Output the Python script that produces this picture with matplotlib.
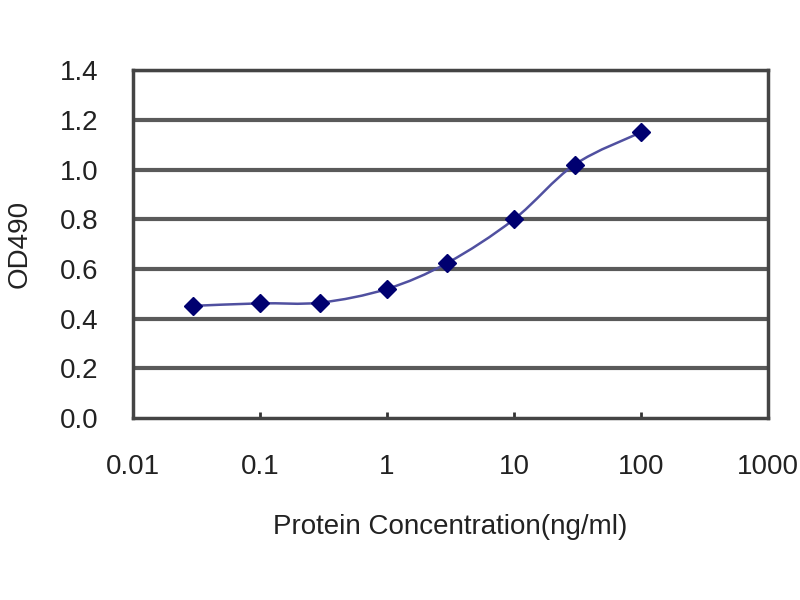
import matplotlib.pyplot as plt
from matplotlib.path import Path
from matplotlib.patches import PathPatch
import numpy as np

plt.rcParams['font.family'] = ['Liberation Sans', 'DejaVu Sans']

conc = [0.03, 0.1, 0.3, 1, 3, 10, 30, 100]
od490 = [0.452, 0.462, 0.465, 0.52, 0.625, 0.80, 1.02, 1.15]
y_ticks = [0.0, 0.2, 0.4, 0.6, 0.8, 1.0, 1.2, 1.4]
x_ticks = [0.01, 0.1, 1, 10, 100, 1000]
x_tick_labels = ['0.01', '0.1', '1', '10', '100', '1000']


def smooth_path(xs, ys):
    # Catmull-Rom style bezier in log-x space, like Excel's smoothed line
    lx = np.log10(xs)
    ys = np.asarray(ys, dtype=float)
    verts = [(xs[0], ys[0])]
    codes = [Path.MOVETO]
    n = len(lx)
    for i in range(n - 1):
        x0, y0 = (lx[i - 1], ys[i - 1]) if i > 0 else (lx[i], ys[i])
        x1, y1 = lx[i], ys[i]
        x2, y2 = lx[i + 1], ys[i + 1]
        x3, y3 = (lx[i + 2], ys[i + 2]) if i + 2 < n else (x2, y2)
        c1 = (x1 + (x2 - x0) / 6, y1 + (y2 - y0) / 6)
        c2 = (x2 - (x3 - x1) / 6, y2 - (y3 - y1) / 6)
        verts += [(10 ** c1[0], c1[1]), (10 ** c2[0], c2[1]), (10 ** x2, y2)]
        codes += [Path.CURVE4] * 3
    return Path(verts, codes)


fig = plt.figure(figsize=(8, 6), dpi=100)
axs = fig.add_axes([0.166, 0.303, 0.794, 0.58])
axs.set_xscale('log')
axs.set_xlim(0.01, 1000)
axs.set_ylim(0, 1.4)

for v in y_ticks[1:]:
    axs.axhline(v, color='#5a5a5a', lw=3, zorder=1)

axs.add_patch(PathPatch(smooth_path(conc, od490), fill=False,
                        edgecolor='#5050a0', lw=1.8, zorder=2))
axs.plot(conc, od490, ls='none', marker='D', ms=9, color='#000070', zorder=3)

axs.set_yticks(y_ticks)
axs.set_yticklabels(['%.1f' % v for v in y_ticks], fontsize=20, color='#222222')
axs.set_xticks(x_ticks)
axs.set_xticklabels(x_tick_labels, fontsize=20, color='#222222')
axs.minorticks_off()
axs.tick_params(axis='x', direction='in', length=4, width=2, color='#333333', pad=26)
axs.tick_params(axis='y', length=0, pad=25)

for sp in axs.spines.values():
    sp.set_color('#444444')
    sp.set_linewidth(2.5)

axs.set_xlabel('Protein Concentration(ng/ml)', fontsize=20, color='#222222', labelpad=24)
axs.set_ylabel('OD490', fontsize=20, color='#222222', labelpad=19)

plt.savefig('out.png', dpi=100)
plt.close()
